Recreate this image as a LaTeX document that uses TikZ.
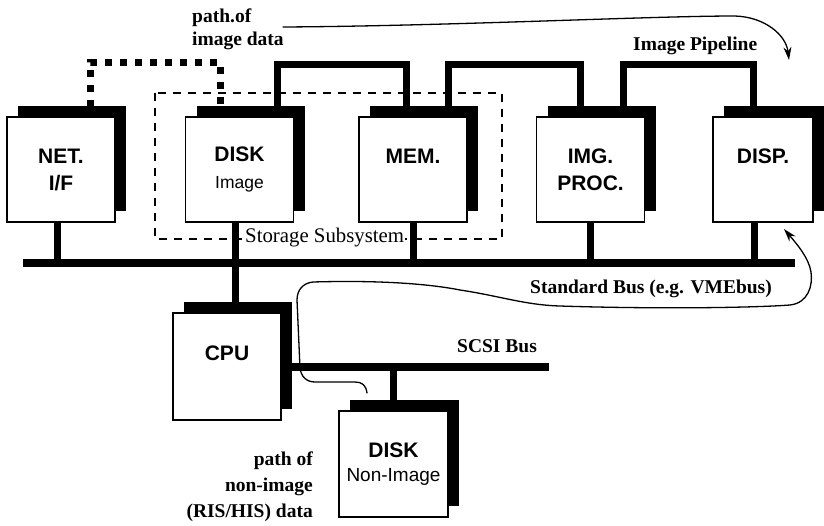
\documentclass[tikz,border=0pt]{standalone}
\usepackage{fontspec}
\setmainfont{Liberation Serif}
\setsansfont{Liberation Sans}
\usetikzlibrary{shadows,arrows.meta,calc}
\begin{document}
\begin{tikzpicture}[x=1pt,y=-1pt,
  box/.style={draw, line width=1.2pt, fill=white, inner sep=0pt,
    minimum width=108pt, minimum height=105pt, align=center,
    font=\sffamily\bfseries\fontsize{21}{27}\selectfont,
    drop shadow={shadow xshift=11pt, shadow yshift=11pt, fill=black, opacity=1}},
  busline/.style={line width=8pt},
  stub/.style={line width=7pt},
  pipe/.style={line width=7pt, line join=miter},
  dotpipe/.style={line width=7pt, dash pattern=on 7pt off 8pt},
  dashbox/.style={line width=1.5pt, dash pattern=on 8pt off 7pt},
  lab/.style={font=\bfseries\fontsize{19.5}{23}\selectfont, inner sep=0pt},
  flow/.style={line width=1.3pt, line cap=round, -{Stealth[length=13pt,width=8pt]}}]

\fill[white] (0,0) rectangle (824,525);
\useasboundingbox (0,0) rectangle (824,525);

% boxes
\node[box] (net)  at (61,169.5)  {NET.\\I/F};
\node[box] (disk) at (239.5,169.5) {DISK\\{\mdseries\fontsize{17.5}{20}\selectfont Image}};
\node[box] (mem)  at (413,169.5) {MEM.\\\mbox{}};
\node[box] (img)  at (590.5,169.5) {IMG.\\PROC.};
\node[box, minimum width=100pt] (disp) at (763,169.5) {DISP.\\\mbox{}};
\node[box, minimum height=107pt] (cpu) at (227,366.5) {CPU\\\mbox{}};
\node[box, minimum width=109pt, minimum height=106pt] (dni) at (393.5,464)
  {DISK\\[-3pt]{\mdseries\fontsize{19}{21}\selectfont Non-Image}};

% buses
\coordinate (busL) at (23,263);
\coordinate (busR) at (795,263);
\coordinate (scsiR) at (549,367);
\draw[busline] (busL) -- (busR);
\draw[stub] ([xshift=-4pt]net.south) -- ([xshift=-4pt]net.south |- busL);
\draw[stub] ([xshift=-4.5pt]disk.south) -- ([xshift=8pt,yshift=9pt]cpu.north);
\draw[stub] (mem.south) -- (mem.south |- busL);
\draw[stub] ([xshift=-0.5pt]img.south) -- ([xshift=-0.5pt]img.south |- busL);
\draw[stub] ([xshift=-9pt]disp.south) -- ([xshift=-9pt]disp.south |- busL);
\draw[line width=7.5pt] (cpu.east |- scsiR) -- (scsiR);
\draw[stub] (dni.north |- scsiR) -- ([yshift=9pt]dni.north);

% image pipeline connections
\draw[dotpipe] ([xshift=29pt,yshift=9pt]net.north) -- ++(0,-45) -| ([xshift=-19.5pt,yshift=9pt]disk.north);
\draw[pipe] ([xshift=37.5pt,yshift=9pt]disk.north) -- ++(0,-43) -| ([xshift=-7pt,yshift=9pt]mem.north);
\draw[pipe] ([xshift=35pt,yshift=9pt]mem.north) -- ++(0,-43) -| ([xshift=-10.5pt,yshift=9pt]img.north);
\draw[pipe] ([xshift=32.5pt,yshift=9pt]img.north) -- ++(0,-43) -| ([xshift=-10pt,yshift=9pt]disp.north);

% storage subsystem
\draw[dashbox] (155,93) rectangle (502,239);
\node[font=\fontsize{20.8}{24}\selectfont, fill=white, inner sep=1pt, anchor=base west] (stor) at (244,242) {Storage Subsystem};

% labels
\node[lab, anchor=base west] (po) at (192,22) {path.of};
\node[lab, anchor=base west] (id) at (192,45) {image data};
\node[lab, anchor=base west] (ip) at (633,50) {Image Pipeline};
\node[lab, anchor=base west] (sb) at (530,293) {Standard Bus (e.g. VMEbus)};
\node[lab, anchor=base west] (scsi) at (457,352) {SCSI Bus};
\node[lab, anchor=base east] (n1) at (313,465) {path of};
\node[lab, anchor=base east] (n2) at (313,491) {non-image};
\node[lab, anchor=base east] (n3) at (313,517) {(RIS/HIS) data};

% data paths
\coordinate (p1) at (283,27);
\coordinate (p2) at (789,60);
\draw[flow] (p1) .. controls (450,26) and (650,16) .. (735,16)
  .. controls (765,17) and (786,35) .. (p2);

\coordinate (q1) at (367,393);
\coordinate (q2) at (784,229);
\draw[flow] (q1) .. controls (366,385) and (362,382) .. (355,382)
  -- (315,382)
  .. controls (306,382) and (301,376) .. (300,368)
  -- (297,300)
  .. controls (297,290) and (303,283) .. (313,282)
  .. controls (380,280) and (430,284) .. (460,290)
  .. controls (500,296) and (525,305) .. (560,306)
  .. controls (650,309) and (750,308) .. (790,305)
  .. controls (808,303) and (813,286) .. (811,272)
  .. controls (809,258) and (796,243) .. (q2);
\end{tikzpicture}
\end{document}
